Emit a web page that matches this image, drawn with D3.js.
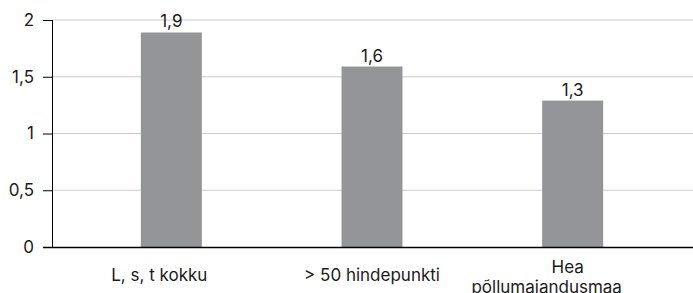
<!DOCTYPE html>
<html>
<head>
<meta charset="utf-8">
<script src="https://cdn.jsdelivr.net/npm/d3@7"></script>
<style>
    body { margin: 0; background: #fff; }
    svg text { font-family: Inter, Roboto, sans-serif; font-size: 17px; fill: #1a1a1a; }
</style>
</head>
<body>
<div class="chart"></div>
<script>
(function () {
    'use strict';

    const categories = [['L, s, t kokku'], ['> 50 hindepunkti'], ['Hea', 'põllumajandusmaa']];
    const values = [1.89, 1.59, 1.29];
    const valueLabels = ['1,9', '1,6', '1,3'];
    const yTicks = [0, 0.5, 1, 1.5, 2];
    const yTickLabels = ['0', '0,5', '1', '1,5', '2'];

    const width = 693;
    const height = 293;
    const margin = { 'top': 20, 'left': 52, 'right': 0, 'bottom': 46 };

    // small horizontal nudges for the category label lines (as in the source)
    const labelDx = [[-12], [0], [-5, -26]];

    const svg = d3.select('.chart').append('svg')
        .attr('width', width)
        .attr('height', height);

    const y = d3.scaleLinear().domain([0, 2]).range([height - margin.bottom, margin.top]);

    const x = d3.scaleBand().domain(d3.range(categories.length))
        .range([71, 673])
        .paddingInner(0.696)
        .paddingOuter(0.348);

    // gridlines
    svg.append('g').selectAll('line')
        .data(yTicks.filter(function (d) { return d > 0; }))
        .enter().append('line')
        .attr('x1', margin.left).attr('x2', width)
        .attr('y1', function (d) { return y(d); })
        .attr('y2', function (d) { return y(d); })
        .attr('stroke', '#cccccc').attr('stroke-width', 1);

    // bars
    svg.append('g').selectAll('rect')
        .data(values)
        .enter().append('rect')
        .attr('x', function (d, i) { return x(i); })
        .attr('y', function (d) { return y(d); })
        .attr('width', x.bandwidth())
        .attr('height', function (d) { return y(0) - y(d); })
        .attr('fill', '#939598');

    // value labels
    svg.append('g').selectAll('text')
        .data(values)
        .enter().append('text')
        .attr('x', function (d, i) { return x(i) + x.bandwidth() / 2; })
        .attr('y', function (d) { return y(d) - 5; })
        .attr('text-anchor', 'middle')
        .text(function (d, i) { return valueLabels[i]; });

    // y axis
    const yAxis = d3.axisLeft(y)
        .tickValues(yTicks)
        .tickFormat(function (d, i) { return yTickLabels[i]; })
        .tickSize(9)
        .tickPadding(9);

    svg.append('g')
        .attr('transform', 'translate(' + margin.left + ',0)')
        .call(yAxis)
        .call(function (g) {
            g.select('.domain').attr('d', 'M0.5,' + y(2) + 'V' + y(0));
            g.selectAll('line').attr('stroke', '#000');
            g.selectAll('text').attr('font-family', null).attr('font-size', null).attr('fill', null);
        });

    // baseline
    svg.append('line')
        .attr('x1', margin.left - 9).attr('x2', width)
        .attr('y1', y(0) + 0.5).attr('y2', y(0) + 0.5)
        .attr('stroke', '#000').attr('stroke-width', 1.5);

    // category labels
    const lineHeight = 20;
    const labelBase = y(0) + 34;
    const cats = svg.append('g').selectAll('text')
        .data(categories)
        .enter().append('text')
        .attr('text-anchor', 'middle');

    cats.selectAll('tspan')
        .data(function (d, i) {
            return d.map(function (t, j) { return { 't': t, 'i': i, 'j': j, 'n': d.length }; });
        })
        .enter().append('tspan')
        .attr('x', function (d) { return x(d.i) + x.bandwidth() / 2 + labelDx[d.i][d.j]; })
        .attr('y', function (d) {
            return labelBase + (d.j - (d.n - 1) / 2) * lineHeight + (d.n > 1 ? 2 : 0);
        })
        .text(function (d) { return d.t; });
}());
</script>
</body>
</html>
